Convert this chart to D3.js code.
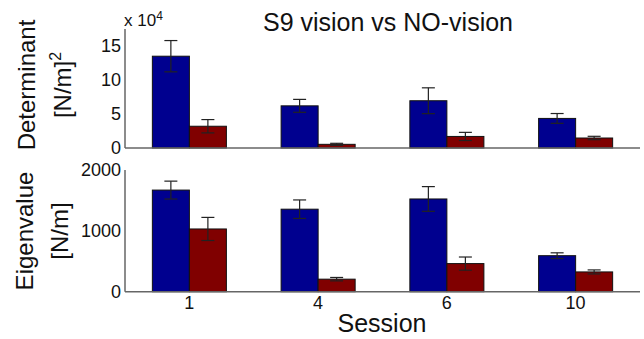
<!DOCTYPE html>
<html lang="en">
<head>
  <meta charset="UTF-8" />
  <title>S9 vision vs NO-vision</title>
  <script src="https://d3js.org/d3.v7.min.js"></script>
  <style>
    html, body {
      margin: 0;
      padding: 0;
      background: #fff;
      overflow: hidden;
      font-family: Arial, "Liberation Sans", sans-serif;
    }
  </style>
</head>
<body>
  <div id="chart"></div>

  <script>
    // ---- data ----
    const sessions = ["1", "4", "6", "10"];
    const series = ["vision", "novision"];

    // determinant in N^2/m^2 (axis shows x 10^4)
    const detVision = [135000, 62000, 69500, 43500];
    const detVisionErr = [23000, 9500, 19000, 7200];
    const detNoVision = [32000, 5400, 17000, 14700];
    const detNoVisionErr = [9800, 1500, 6000, 2500];
    const detTicks = [0, 50000, 100000, 150000];

    // eigenvalue in N/m
    const eigVision = [1670, 1356, 1524, 592];
    const eigVisionErr = [147, 152, 203, 47];
    const eigNoVision = [1031, 206, 462, 325];
    const eigNoVisionErr = [190, 28, 108, 33];
    const eigTicks = [0, 1000, 2000];

    const colors = { vision: "#00008f", novision: "#800000" };

    const width = 644, height = 339;
    const left = 125, right = 640;

    const svg = d3.select("#chart").append("svg")
      .attr("width", width)
      .attr("height", height);

    const x = d3.scaleBand().domain(sessions).range([left, right]);
    const groupW = x.bandwidth() * 0.575;
    const x1 = d3.scaleBand().domain(series)
      .range([x.bandwidth() / 2 - groupW / 2, x.bandwidth() / 2 + groupW / 2]);

    function drawPanel(opts) {
      const y = d3.scaleLinear().domain(opts.domain).range([opts.bottom, opts.top]);
      const g = svg.append("g");

      const rows = sessions.map((s, i) => ({
        s,
        vals: [
          { k: "vision", v: opts.vision[i], e: opts.visionErr[i] },
          { k: "novision", v: opts.novision[i], e: opts.novisionErr[i] }
        ]
      }));

      const grp = g.selectAll("g.grp").data(rows).enter().append("g")
        .attr("transform", d => `translate(${x(d.s)},0)`);

      grp.selectAll("rect").data(d => d.vals).enter().append("rect")
        .attr("x", d => x1(d.k))
        .attr("y", d => y(d.v))
        .attr("width", x1.bandwidth())
        .attr("height", d => y(0) - y(d.v))
        .attr("fill", d => colors[d.k])
        .attr("stroke", "#111")
        .attr("stroke-width", 1);

      // error bars
      const err = grp.selectAll("g.err").data(d => d.vals).enter().append("g")
        .attr("stroke", "#222")
        .attr("stroke-width", 1.2);
      const cx = d => x1(d.k) + x1.bandwidth() / 2;
      err.append("line")
        .attr("x1", cx).attr("x2", cx)
        .attr("y1", d => y(d.v - d.e)).attr("y2", d => y(d.v + d.e));
      [1, -1].forEach(sg => {
        err.append("line")
          .attr("x1", d => cx(d) - 6.5).attr("x2", d => cx(d) + 6.5)
          .attr("y1", d => y(d.v + sg * d.e)).attr("y2", d => y(d.v + sg * d.e));
      });

      // axes lines (MATLAB box off look)
      g.append("line")
        .attr("x1", left).attr("x2", left)
        .attr("y1", y(opts.domain[1])).attr("y2", y(0))
        .attr("stroke", "#666").attr("stroke-width", 1.5);
      g.append("line")
        .attr("x1", left).attr("x2", right)
        .attr("y1", y(0)).attr("y2", y(0))
        .attr("stroke", "#666").attr("stroke-width", 1.5);

      g.selectAll("text.tick").data(opts.ticks).enter().append("text")
        .attr("x", left - 4)
        .attr("y", d => y(d))
        .attr("dy", "0.36em")
        .attr("text-anchor", "end")
        .attr("font-size", 18)
        .attr("fill", "#111")
        .text(opts.fmt);

      // y labels, two lines
      opts.labels.forEach((lab, i) => {
        const t = g.append("text")
          .attr("transform", `translate(${opts.labelX[i]},${opts.labelY}) rotate(-90)`)
          .attr("text-anchor", "middle")
          .attr("font-size", 24)
          .attr("fill", "#111");
        t.append("tspan").text(lab[0]);
        if (lab[1]) {
          t.append("tspan").attr("font-size", 16).attr("dy", "-0.6em").text(lab[1]);
        }
      });

      return y;
    }

    drawPanel({
      domain: [0, 175000], top: 29, bottom: 148,
      vision: detVision, visionErr: detVisionErr,
      novision: detNoVision, novisionErr: detNoVisionErr,
      ticks: detTicks, fmt: d => d / 10000,
      labels: [["Determinant"], ["[N/m]", "2"]],
      labelX: [35, 71], labelY: 85
    });

    drawPanel({
      domain: [0, 2000], top: 170, bottom: 291.7,
      vision: eigVision, visionErr: eigVisionErr,
      novision: eigNoVision, novisionErr: eigNoVisionErr,
      ticks: eigTicks, fmt: d => d,
      labels: [["Eigenvalue"], ["[N/m]"]],
      labelX: [33, 68], labelY: 231
    });

    // exponent label
    const ex = svg.append("text")
      .attr("x", 124).attr("y", 26)
      .attr("font-size", 17).attr("fill", "#111");
    ex.append("tspan").text("x 10");
    ex.append("tspan").attr("font-size", 12).attr("dy", "-0.5em").text("4");

    // session tick labels
    svg.selectAll("text.xt").data(sessions).enter().append("text")
      .attr("x", d => x(d) + x.bandwidth() / 2)
      .attr("y", 309)
      .attr("text-anchor", "middle")
      .attr("font-size", 18)
      .attr("fill", "#111")
      .text(d => d);

    svg.append("text")
      .attr("x", 382).attr("y", 332)
      .attr("text-anchor", "middle")
      .attr("font-size", 25)
      .attr("fill", "#111")
      .text("Session");

    svg.append("text")
      .attr("x", 388).attr("y", 31)
      .attr("text-anchor", "middle")
      .attr("font-size", 25)
      .attr("fill", "#111")
      .text("S9 vision vs NO-vision");
  </script>
</body>
</html>
